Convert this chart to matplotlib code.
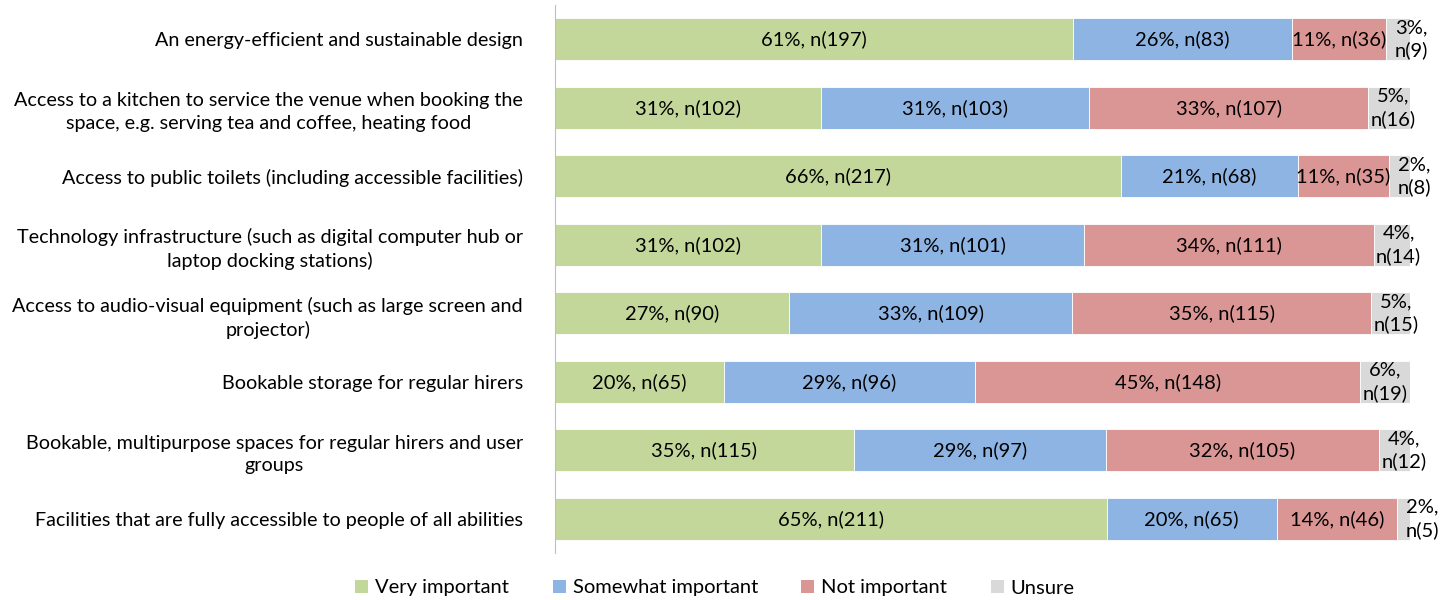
import numpy as np
import matplotlib.pyplot as plt
from matplotlib.patches import Patch

plt.rcParams['font.family'] = ['Lato', 'DejaVu Sans']

categories = [
    "An energy-efficient and sustainable design",
    "Access to a kitchen to service the venue when booking the\nspace, e.g. serving tea and coffee, heating food",
    "Access to public toilets (including accessible facilities)",
    "Technology infrastructure (such as digital computer hub or\nlaptop docking stations)",
    "Access to audio-visual equipment (such as large screen and\nprojector)",
    "Bookable storage for regular hirers",
    "Bookable, multipurpose spaces for regular hirers and user\ngroups",
    "Facilities that are fully accessible to people of all abilities",
]
series = ["Very important", "Somewhat important", "Not important", "Unsure"]
counts = {
    "Very important":     [197, 102, 217, 102, 90, 65, 115, 211],
    "Somewhat important": [83, 103, 68, 101, 109, 96, 97, 65],
    "Not important":      [36, 107, 35, 111, 115, 148, 105, 46],
    "Unsure":             [9, 16, 8, 14, 15, 19, 12, 5],
}
pcts = {
    "Very important":     [61, 31, 66, 31, 27, 20, 35, 65],
    "Somewhat important": [26, 31, 21, 31, 33, 29, 29, 20],
    "Not important":      [11, 33, 11, 34, 35, 45, 32, 14],
    "Unsure":             [3, 5, 2, 4, 5, 6, 4, 2],
}
colors = ["#C4D79B", "#8DB4E2", "#DA9694", "#D9D9D9"]

fig = plt.figure(figsize=(14.51, 6), dpi=100)
ax = fig.add_axes([555/1451, 1-553/600, 855/1451, 548/600])

y = np.arange(len(categories))
tot = np.sum([counts[s] for s in series], axis=0)
left = np.zeros(len(categories))
for s, c in zip(series, colors):
    w = np.array(counts[s]) / tot
    ax.barh(y, w, left=left, height=0.62, color=c, edgecolor='white', linewidth=0.6)
    for i in range(len(categories)):
        if s == "Unsure":
            ax.annotate(f"{pcts[s][i]}%,\nn({counts[s][i]})", (left[i], y[i]),
                        xytext=(18, 0), textcoords='offset points',
                        ha='center', va='center', fontsize=14.5, linespacing=1.35)
        else:
            ax.text(left[i] + w[i] / 2, y[i], f"{pcts[s][i]}%, n({counts[s][i]})",
                    ha='center', va='center', fontsize=14.5)
    left += w

ax.set_xlim(0, 1)
ax.set_ylim(len(categories) - 0.5, -0.5)
ax.set_yticks(y)
ax.set_yticklabels(categories, fontsize=14.2, multialignment='center', linespacing=1.38)
ax.tick_params(axis='y', length=0, pad=23)
ax.set_xticks([])
for sp in ['top', 'right', 'bottom']:
    ax.spines[sp].set_visible(False)
ax.spines['left'].set_color('#BFBFBF')

handles = [Patch(facecolor=c, edgecolor='none') for c in colors]
fig.legend(handles, series, loc='center', bbox_to_anchor=(715/1451, 1-588/600),
           ncol=4, frameon=False, fontsize=14.5, handlelength=0.65, handleheight=0.65,
           handletextpad=0.35, columnspacing=2.15)

fig.savefig("out.png", dpi=100)
